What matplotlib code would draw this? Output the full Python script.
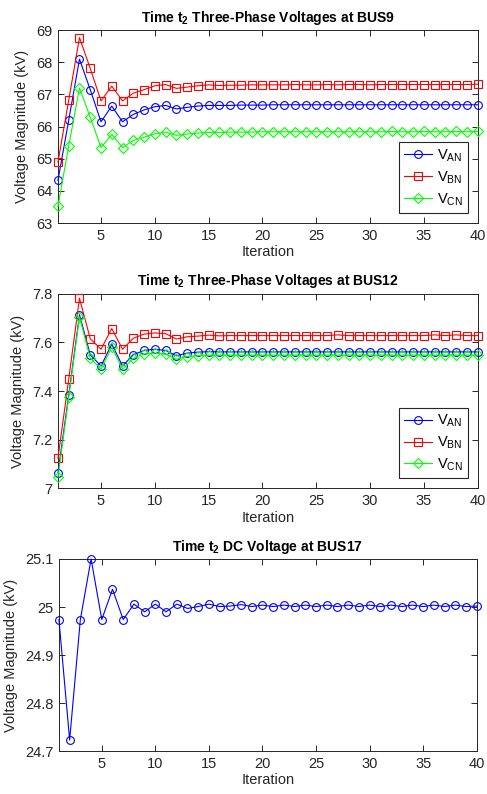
import matplotlib
matplotlib.use('Agg')
import matplotlib.pyplot as plt
import numpy as np

plt.rcParams['font.family'] = ['Liberation Sans', 'DejaVu Sans']
plt.rcParams['mathtext.fontset'] = 'custom'
plt.rcParams['mathtext.rm'] = 'Liberation Sans'
plt.rcParams['mathtext.it'] = 'Liberation Sans'
plt.rcParams['mathtext.bf'] = 'Liberation Sans:bold'

iterations = np.arange(1, 41)

# BUS9 three-phase voltages (kV)
bus9_van = [64.33, 66.20, 68.10, 67.15, 66.15, 66.64, 66.15, 66.38, 66.52, 66.62,
            66.66, 66.55, 66.60, 66.64, 66.66, 66.66, 66.66, 66.67, 66.67, 66.67,
            66.68, 66.68, 66.68, 66.68, 66.68, 66.68, 66.68, 66.68, 66.68, 66.68,
            66.68, 66.68, 66.68, 66.68, 66.68, 66.68, 66.68, 66.68, 66.68, 66.68]
bus9_vbn = [64.90, 66.82, 68.77, 67.81, 66.80, 67.26, 66.80, 67.04, 67.15, 67.27,
            67.31, 67.19, 67.23, 67.27, 67.30, 67.28, 67.29, 67.29, 67.30, 67.30,
            67.30, 67.30, 67.31, 67.30, 67.30, 67.31, 67.30, 67.31, 67.31, 67.30,
            67.31, 67.31, 67.31, 67.31, 67.31, 67.31, 67.31, 67.31, 67.31, 67.32]
bus9_vcn = [63.52, 65.40, 67.20, 66.29, 65.35, 65.76, 65.35, 65.57, 65.67, 65.78,
            65.83, 65.73, 65.77, 65.80, 65.82, 65.82, 65.83, 65.83, 65.83, 65.84,
            65.84, 65.84, 65.84, 65.84, 65.84, 65.84, 65.84, 65.84, 65.84, 65.84,
            65.84, 65.85, 65.84, 65.84, 65.85, 65.84, 65.84, 65.85, 65.84, 65.85]

# BUS12 three-phase voltages (kV)
bus12_van = [7.063, 7.383, 7.714, 7.549, 7.503, 7.593, 7.503, 7.549, 7.567, 7.572,
             7.567, 7.545, 7.556, 7.560, 7.562, 7.561, 7.561, 7.561, 7.561, 7.561,
             7.561, 7.561, 7.561, 7.561, 7.561, 7.561, 7.561, 7.561, 7.561, 7.561,
             7.561, 7.561, 7.561, 7.561, 7.561, 7.561, 7.561, 7.561, 7.561, 7.561]
bus12_vbn = [7.124, 7.448, 7.782, 7.615, 7.572, 7.657, 7.572, 7.617, 7.634, 7.639,
             7.636, 7.614, 7.623, 7.626, 7.630, 7.627, 7.628, 7.628, 7.628, 7.628,
             7.628, 7.628, 7.628, 7.628, 7.628, 7.628, 7.631, 7.628, 7.628, 7.628,
             7.628, 7.628, 7.628, 7.628, 7.628, 7.631, 7.628, 7.631, 7.628, 7.628]
bus12_vcn = [7.045, 7.374, 7.705, 7.535, 7.490, 7.580, 7.490, 7.535, 7.552, 7.556,
             7.552, 7.531, 7.542, 7.545, 7.548, 7.548, 7.548, 7.548, 7.548, 7.548,
             7.548, 7.548, 7.548, 7.548, 7.548, 7.548, 7.548, 7.548, 7.548, 7.548,
             7.548, 7.548, 7.548, 7.548, 7.548, 7.548, 7.548, 7.548, 7.548, 7.548]

# BUS17 DC voltage (kV)
bus17_vdc = [24.974, 24.723, 24.974, 25.100, 24.974, 25.037, 24.974, 25.006, 24.990, 25.006,
             24.990, 25.006, 24.997, 25.001, 25.006, 25.001, 25.002, 25.005, 25.001, 25.004,
             25.001, 25.004, 25.001, 25.004, 25.001, 25.004, 25.001, 25.004, 25.001, 25.004,
             25.001, 25.004, 25.001, 25.004, 25.001, 25.004, 25.001, 25.004, 25.001, 25.002]

phase_labels = [r'V$_{\mathrm{AN}}$', r'V$_{\mathrm{BN}}$', r'V$_{\mathrm{CN}}$']
titles = [r'Time t$_\mathbf{2}$ Three-Phase Voltages at BUS9',
          r'Time t$_\mathbf{2}$ Three-Phase Voltages at BUS12',
          r'Time t$_\mathbf{2}$ DC Voltage at BUS17']

axis_color = '#262626'
marker_kw = dict(lw=0.8, markersize=5.6, markerfacecolor='none',
                 markeredgewidth=0.8, clip_on=False)


def style_axes(ax, ylim, yticks, title):
    ax.set_xlim(1, 40)
    ax.set_xticks([5, 10, 15, 20, 25, 30, 35, 40])
    ax.set_ylim(ylim)
    ax.set_yticks(yticks)
    ax.tick_params(direction='in', top=True, right=True, length=4, width=0.7,
                   colors=axis_color, labelsize=10.5, pad=4)
    for s in ax.spines.values():
        s.set_color(axis_color)
        s.set_linewidth(0.7)
        s.set_zorder(0)
    ax.set_title(title, fontsize=10, fontweight='bold', pad=6)
    ax.set_xlabel('Iteration', fontsize=10.5, color=axis_color, labelpad=2)
    ax.set_ylabel('Voltage Magnitude (kV)', fontsize=10.5, color=axis_color, labelpad=5)


def plot_phases(ax, va, vb, vc):
    ax.plot(iterations, va, '-o', color='b', label=phase_labels[0], **marker_kw)
    ax.plot(iterations, vb, '-s', color='r', label=phase_labels[1], **marker_kw)
    diamond_kw = dict(marker_kw, markersize=5.0)
    ax.plot(iterations, vc, '-D', color='#00ff00', label=phase_labels[2], **diamond_kw)
    leg = ax.legend(loc='lower right', fontsize=10.5, fancybox=False, framealpha=1,
                    edgecolor=axis_color, handlelength=1.9, labelspacing=0.38,
                    borderaxespad=0.7, handletextpad=0.3, borderpad=0.35)
    leg.get_frame().set_linewidth(0.8)
    leg.set_zorder(5)


fig = plt.figure(figsize=(4.87, 7.94), dpi=100)
ax1 = fig.add_axes([0.119, 0.719, 0.862, 0.243])
ax2 = fig.add_axes([0.119, 0.385, 0.862, 0.245])
ax3 = fig.add_axes([0.121, 0.054, 0.858, 0.242])

plot_phases(ax1, bus9_van, bus9_vbn, bus9_vcn)
style_axes(ax1, (63, 69), [63, 64, 65, 66, 67, 68, 69], titles[0])

plot_phases(ax2, bus12_van, bus12_vbn, bus12_vcn)
style_axes(ax2, (7, 7.8), [7, 7.2, 7.4, 7.6, 7.8], titles[1])
ax2.set_yticklabels(['7', '7.2', '7.4', '7.6', '7.8'])

ax3.plot(iterations, bus17_vdc, '-o', color='b', **marker_kw)
style_axes(ax3, (24.7, 25.1), [24.7, 24.8, 24.9, 25, 25.1], titles[2])
ax3.set_yticklabels(['24.7', '24.8', '24.9', '25', '25.1'])

fig.savefig('out.png', dpi=100)
